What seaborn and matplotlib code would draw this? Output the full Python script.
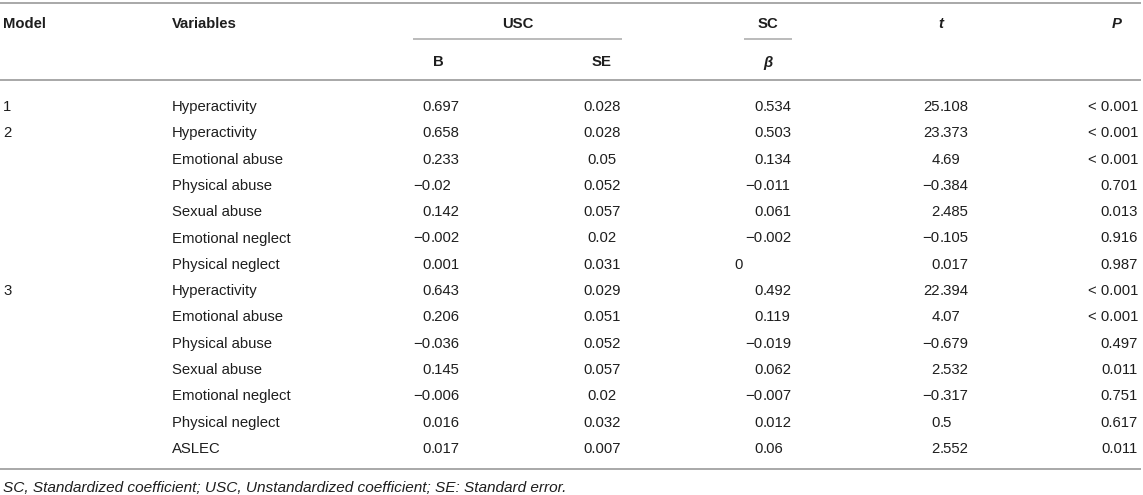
import matplotlib
matplotlib.use("Agg")
import matplotlib.pyplot as plt
import seaborn as sns

# Table values (regression models)
models = ["1", "2", "", "", "", "", "", "3", "", "", "", "", "", ""]
variables = [
    "Hyperactivity", "Hyperactivity", "Emotional abuse", "Physical abuse",
    "Sexual abuse", "Emotional neglect", "Physical neglect",
    "Hyperactivity", "Emotional abuse", "Physical abuse", "Sexual abuse",
    "Emotional neglect", "Physical neglect", "ASLEC",
]
b_vals = [0.697, 0.658, 0.233, -0.02, 0.142, -0.002, 0.001,
          0.643, 0.206, -0.036, 0.145, -0.006, 0.016, 0.017]
se_vals = [0.028, 0.028, 0.05, 0.052, 0.057, 0.02, 0.031,
           0.029, 0.051, 0.052, 0.057, 0.02, 0.032, 0.007]
beta_vals = [0.534, 0.503, 0.134, -0.011, 0.061, -0.002, 0,
             0.492, 0.119, -0.019, 0.062, -0.007, 0.012, 0.06]
t_vals = [25.108, 23.373, 4.69, -0.384, 2.485, -0.105, 0.017,
          22.394, 4.07, -0.679, 2.532, -0.317, 0.5, 2.552]
p_vals = ["< 0.001", "< 0.001", "< 0.001", "0.701", "0.013", "0.916", "0.987",
          "< 0.001", "< 0.001", "0.497", "0.011", "0.751", "0.617", "0.011"]
footnote = ("SC, Standardized coefficient; USC, Unstandardized coefficient; "
            "SE: Standard error.")

sns.set_theme(style="white")
plt.rcParams["font.family"] = ["Liberation Sans", "DejaVu Sans"]

W, H = 1143, 495
fig = plt.figure(figsize=(W / 100, H / 100), dpi=100)
ax = fig.add_axes([0, 0, 1, 1])
ax.set_xlim(0, W)
ax.set_ylim(H, 0)
ax.axis("off")

FS = 10.7
TXT = "#1e1e1e"
LINE = "#a8a8a8"


def fmt(v):
    return f"{v:g}".replace("-", "\u2212")


def put(x, y, s, ha="left", fs=FS, **kw):
    ax.text(x, y + 1.5, s, ha=ha, va="center", fontsize=fs, color=TXT, **kw)


def put_dec(x_dot, y, v):
    # decimal-aligned number
    s = fmt(v)
    if "." in s:
        whole, frac = s.split(".")
        put(x_dot, y, whole, ha="right")
        put(x_dot, y, "." + frac, ha="left")
    else:
        put(x_dot - 20, y, s, ha="right")


# rules
ax.hlines([3, 80, 469], 0, W - 2, color=LINE, lw=1.4)
ax.hlines(39, 413, 622, color=LINE, lw=1.1)
ax.hlines(39, 744, 792, color=LINE, lw=1.1)

# headers
y1, y2 = 23, 61
put(3, y1, "Model", weight="bold")
put(172, y1, "Variables", weight="bold")
put(518, y1, "USC", ha="center", weight="bold")
put(768, y1, "SC", ha="center", weight="bold")
put(941, y1, "t", ha="center", weight="bold", style="italic")
put(1117, y1, "P", ha="center", weight="bold", style="italic")
put(438, y2, "B", ha="center", weight="bold")
put(602, y2, "SE", ha="center", weight="bold")
put(768, y2, "\u03b2", ha="center", weight="bold", style="italic")

# body
y0, dy = 105.5, 26.3
for i in range(len(variables)):
    y = y0 + i * dy
    put(3, y, models[i])
    put(172, y, variables[i])
    put_dec(430.5, y, b_vals[i])
    put(602, y, fmt(se_vals[i]), ha="center")
    put_dec(762.5, y, beta_vals[i])
    put_dec(939.5, y, t_vals[i])
    put(1138, y, p_vals[i], ha="right")

put(3, 487, footnote, fs=11.1, style="italic")

fig.savefig("out.png", dpi=100, facecolor="white")
